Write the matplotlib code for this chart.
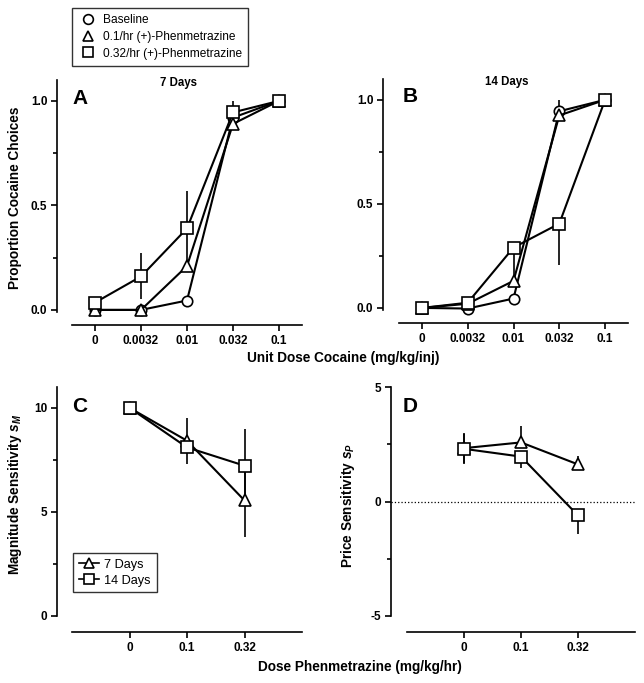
import matplotlib
matplotlib.use('Agg')
import matplotlib.pyplot as plt
from matplotlib.lines import Line2D

plt.rcParams['font.family'] = ['Liberation Sans', 'DejaVu Sans']
plt.rcParams['mathtext.fontset'] = 'custom'
plt.rcParams['mathtext.it'] = 'Liberation Sans:italic:bold'
plt.rcParams['mathtext.rm'] = 'Liberation Sans:bold'
plt.rcParams['axes.unicode_minus'] = False

cocaine_doses = ['0', '0.0032', '0.01', '0.032', '0.1']
phen_doses = ['0', '0.1', '0.32']

# panel A: 7 days
a_baseline = [0.0, 0.0, 0.045, 0.92, 1.0]
a_low = [0.0, 0.0, 0.21, 0.89, 1.0]
a_high = [0.035, 0.16, 0.39, 0.945, 1.0]
a_high_lo = [0, 0.11, 0.17, 0, 0]
a_high_hi = [0, 0.11, 0.18, 0.055, 0]

# panel B: 14 days
b_baseline = [0.0, -0.003, 0.045, 0.945, 1.0]
b_baseline_hi = [0, 0, 0, 0.055, 0]
b_low = [0.0, 0.02, 0.13, 0.925, 1.0]
b_high = [0.0, 0.025, 0.29, 0.405, 1.0]
b_high_lo = [0, 0, 0.16, 0.2, 0]

# panel C: magnitude sensitivity
c_7 = [10.0, 8.42, 5.55]
c_7_err = [0, 1.1, 1.77]
c_14 = [10.0, 8.1, 7.22]
c_14_err = [0, 0, 1.78]

# panel D: price sensitivity
d_7 = [2.33, 2.58, 1.62]
d_7_lo = [0.65, 0, 0]
d_7_hi = [0.65, 0.7, 0.38]
d_14 = [2.3, 1.96, -0.61]
d_14_lo = [0.65, 0.48, 0.83]
d_14_hi = [0.65, 0, 0]

W, H = 644, 683
fig = plt.figure(figsize=(W / 100, H / 100), dpi=100)


def make_ax(x0, y0, x1, y1, left_off, bottom_off):
    ax = fig.add_axes([x0 / W, 1 - y1 / H, (x1 - x0) / W, (y1 - y0) / H])
    ax.patch.set_visible(False)
    for s in ['top', 'right']:
        ax.spines[s].set_visible(False)
    ax.spines['left'].set_position(('outward', left_off * 0.72))
    ax.spines['bottom'].set_position(('outward', bottom_off * 0.72))
    for s in ['left', 'bottom']:
        ax.spines[s].set_linewidth(1.2)
    ax.tick_params(width=1.2, length=4, labelsize=8.5, pad=3)
    ax.tick_params(which='minor', width=1.2, length=3)
    return ax


def series(ax, x, y, lo, hi, marker, ms):
    ax.errorbar(x, y, yerr=[lo, hi], fmt='-', marker=marker, color='black',
                mfc='white', mec='black', ms=ms, mew=1.2, lw=1.5,
                elinewidth=1.2, capsize=0, clip_on=False, zorder=3)


def bold_ticks(ax):
    for lab in ax.get_xticklabels() + ax.get_yticklabels():
        lab.set_fontweight('bold')


xs5 = list(range(len(cocaine_doses)))
xs3 = list(range(len(phen_doses)))
zeros5 = [0] * 5

# A
axA = make_ax(72, 80, 302, 312, 15, 13)
series(axA, xs5, a_baseline, zeros5, zeros5, 'o', 7.5)
series(axA, xs5, a_low, zeros5, zeros5, '^', 8)
series(axA, xs5, a_high, a_high_lo, a_high_hi, 's', 8)
axA.set_xlim(-0.5, 4.5)
axA.set_ylim(-0.01, 1.1)

# B
axB = make_ax(399, 79, 628, 310, 16, 13)
series(axB, xs5, b_baseline, zeros5, b_baseline_hi, 'o', 7.5)
series(axB, xs5, b_low, zeros5, zeros5, '^', 8)
series(axB, xs5, b_high, b_high_lo, zeros5, 's', 8)
axB.set_xlim(-0.5, 4.5)
axB.set_ylim(-0.01, 1.1)

for ax in (axA, axB):
    ax.set_xticks(xs5)
    ax.set_xticklabels(cocaine_doses)
    ax.set_yticks([0, 0.5, 1.0])
    ax.set_yticklabels(['0.0', '0.5', '1.0'])
    ax.set_yticks([0.25, 0.75], minor=True)
    bold_ticks(ax)

# C
axC = make_ax(72, 387, 302, 616, 15, 16)
series(axC, xs3, c_7, c_7_err, c_7_err, '^', 8.5)
series(axC, xs3, c_14, c_14_err, c_14_err, 's', 8)
axC.set_xlim(-1, 3)
axC.set_ylim(0, 11)
axC.set_yticks([0, 5, 10])
axC.set_yticks([2.5, 7.5], minor=True)

# D
axD = make_ax(407, 387, 635, 616, 16, 16)
axD.plot([-1.28, 3], [0, 0], ls=':', color='black', lw=0.9, clip_on=False, zorder=1)
series(axD, xs3, d_7, d_7_lo, d_7_hi, '^', 8.5)
series(axD, xs3, d_14, d_14_lo, d_14_hi, 's', 8)
axD.set_xlim(-1, 3)
axD.set_ylim(-5, 5)
axD.set_yticks([-5, 0, 5])
axD.set_yticks([-2.5, 2.5], minor=True)

for ax in (axC, axD):
    ax.set_xticks(xs3)
    ax.set_xticklabels(phen_doses)
    bold_ticks(ax)

# panel letters and titles
for letter, (px, py) in [('A', (80, 98)), ('B', (410, 97)), ('C', (80, 407)), ('D', (410, 406))]:
    fig.text(px / W, 1 - py / H, letter, fontsize=15, fontweight='bold',
             ha='center', va='center')
fig.text(178 / W, 1 - 83 / H, '7 Days', fontsize=8.3, fontweight='bold', ha='center', va='center')
fig.text(507 / W, 1 - 82 / H, '14 Days', fontsize=8.3, fontweight='bold', ha='center', va='center')

# axis labels
fig.text(15 / W, 1 - 198 / H, 'Proportion Cocaine Choices', rotation=90,
         fontsize=9.8, fontweight='bold', ha='center', va='center')
fig.text(343 / W, 1 - 358 / H, 'Unit Dose Cocaine (mg/kg/inj)',
         fontsize=9.8, fontweight='bold', ha='center', va='center')
fig.text(360 / W, 1 - 667 / H, 'Dose Phenmetrazine (mg/kg/hr)',
         fontsize=9.8, fontweight='bold', ha='center', va='center')
fig.text(15 / W, 1 - 494 / H, r'Magnitude Sensitivity $s_M$', rotation=90,
         fontsize=9.8, fontweight='bold', ha='center', va='center')
fig.text(348 / W, 1 - 506 / H, r'Price Sensitivity $s_P$', rotation=90,
         fontsize=9.8, fontweight='bold', ha='center', va='center')

# legends
top_handles = [Line2D([], [], ls='none', marker=m, mfc='white', mec='black', ms=ms, mew=1.2)
               for m, ms in [('o', 7), ('^', 7.5), ('s', 7)]]
leg1 = fig.legend(top_handles, ['Baseline', '0.1/hr (+)-Phenmetrazine', '0.32/hr (+)-Phenmetrazine'],
                  loc='upper left', bbox_to_anchor=(72 / W, 1 - 8 / H), fontsize=8.6,
                  frameon=True, fancybox=False, edgecolor='black', borderaxespad=0,
                  handlelength=1.6, handletextpad=0.5, labelspacing=0.4, borderpad=0.5)
leg1.get_frame().set_linewidth(1.0)

c_handles = [Line2D([], [], color='black', lw=1.2, marker=m, mfc='white', mec='black', ms=ms, mew=1.2)
             for m, ms in [('^', 7.5), ('s', 7)]]
leg2 = fig.legend(c_handles, ['7 Days', '14 Days'], loc='upper left',
                  bbox_to_anchor=(73 / W, 1 - 553 / H), fontsize=9.2, frameon=True,
                  fancybox=False, edgecolor='black', borderaxespad=0,
                  handlelength=1.6, handletextpad=0.4, labelspacing=0.3, borderpad=0.45)
leg2.get_frame().set_linewidth(1.0)

fig.savefig('out.png', dpi=100)
